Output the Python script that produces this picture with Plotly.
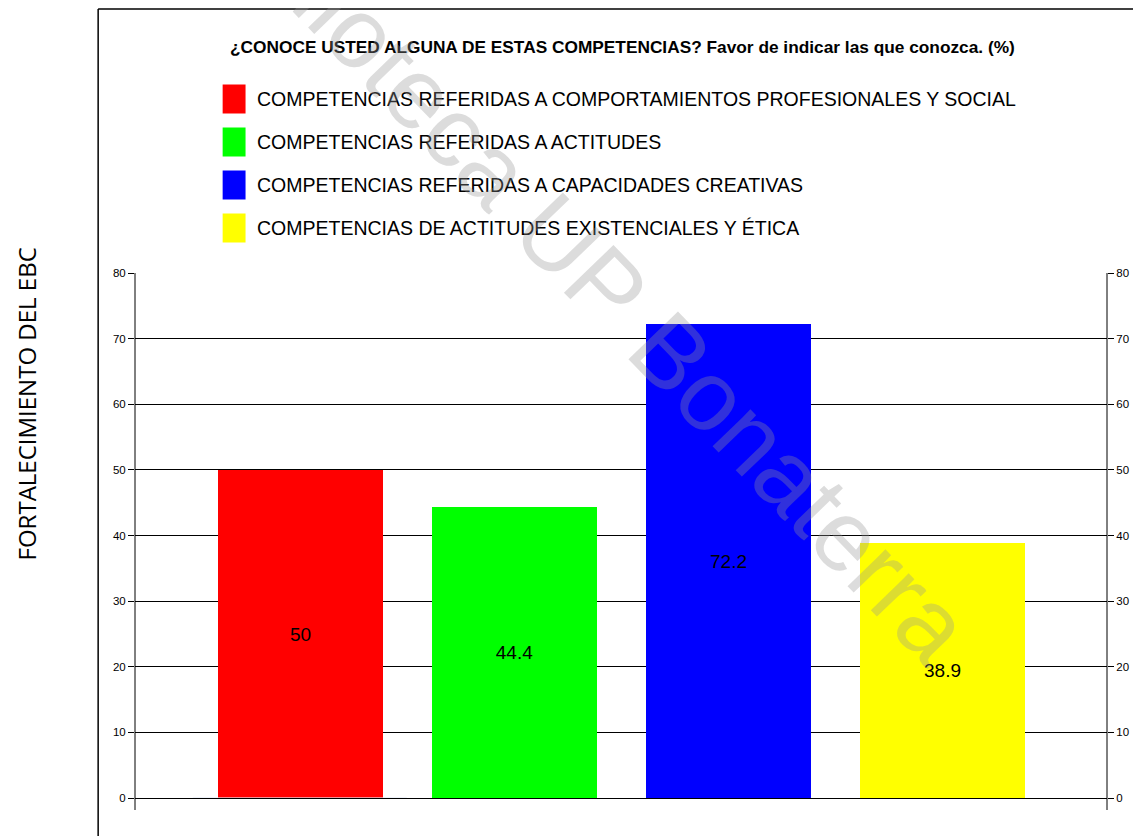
import plotly.graph_objects as go

categories = [
    "COMPETENCIAS REFERIDAS A COMPORTAMIENTOS PROFESIONALES Y SOCIAL",
    "COMPETENCIAS REFERIDAS A ACTITUDES",
    "COMPETENCIAS REFERIDAS A CAPACIDADES CREATIVAS",
    "COMPETENCIAS DE ACTITUDES EXISTENCIALES Y ÉTICA",
]
values = [50, 44.4, 72.2, 38.9]
colors = ["#ff0000", "#00ff00", "#0000ff", "#ffff00"]
y_ticks = [0, 10, 20, 30, 40, 50, 60, 70, 80]
title_text = "¿CONOCE USTED ALGUNA DE ESTAS COMPETENCIAS? Favor de indicar las que conozca. (%)"
side_title = "FORTALECIMIENTO DEL EBC"
watermark = "Biblioteca UP Bonaterra"

OFF = 8  # page body margin
W, H = 1141 - OFF, 836 - OFF
L, R, T, B = 135, 1111, 273, 798  # reference pixel coords of plot area

def px(x):
    return (x - L) / (R - L)

def py(y):
    return (B - y) / (B - T)

FONT = "Liberation Sans, Arial, sans-serif"

fig = go.Figure()
xs = list(range(len(categories)))
fig.add_trace(go.Bar(
    x=xs, y=values, width=0.772,
    marker=dict(color=colors, line=dict(width=0)),
    text=[f"{v:g}" for v in values], textposition="inside",
    insidetextanchor="middle",
    textfont=dict(family=FONT, size=19, color="black"),
    showlegend=False, hoverinfo="skip",
))
fig.add_trace(go.Bar(x=[0], y=[0], yaxis="y2", showlegend=False,
                     marker=dict(color="rgba(0,0,0,0)"), hoverinfo="skip"))

shapes = []
annotations = []
# frame lines
shapes.append(dict(type="line", xref="paper", yref="paper",
                   x0=px(98), x1=px(98), y0=py(9), y1=py(840), line=dict(color="black", width=1.5)))
shapes.append(dict(type="line", xref="paper", yref="paper",
                   x0=px(98), x1=px(1145), y0=py(9), y1=py(9), line=dict(color="black", width=1.5)))
# axis lines extending below zero
for xx in (L, R):
    shapes.append(dict(type="line", xref="paper", yref="paper",
                       x0=px(xx), x1=px(xx), y0=py(T), y1=py(810), line=dict(color="black", width=1)))

# legend
for i, (name, c) in enumerate(zip(categories, colors)):
    cy = 99 + i * 43
    shapes.append(dict(type="rect", xref="paper", yref="paper",
                       x0=px(223), x1=px(246), y0=py(cy - 14.5), y1=py(cy + 14.5),
                       fillcolor=c, line=dict(width=0)))
    annotations.append(dict(text=name, xref="paper", yref="paper", x=px(255), y=py(cy),
                            xanchor="left", yanchor="middle", showarrow=False,
                            font=dict(family=FONT, size=19.5, color="black")))

annotations.append(dict(text="<b>" + title_text + "</b>", xref="paper", yref="paper",
                        x=px(625), y=py(47), xanchor="center", yanchor="middle", showarrow=False,
                        font=dict(family=FONT, size=17.3, color="black")))
annotations.append(dict(text=side_title, xref="paper", yref="paper",
                        x=px(26), y=py(404), xanchor="center", yanchor="middle", showarrow=False,
                        textangle=-90,
                        font=dict(family="Open Sans, sans-serif", size=24, color="black")))
annotations.append(dict(text=watermark, xref="paper", yref="paper",
                        x=px(585), y=py(262), xanchor="center", yanchor="middle", showarrow=False,
                        textangle=46,
                        font=dict(family=FONT, size=100, color="rgba(150,150,150,0.33)")))

yax = dict(range=[0, 80], tickvals=y_ticks, ticks="outside", ticklen=6, tickcolor="black",
           tickfont=dict(family=FONT, size=11.5, color="black"), showline=False,
           fixedrange=True)

fig.update_layout(
    width=W, height=H,
    margin=dict(l=L - OFF, r=1141 - R, t=T - OFF, b=836 - B, pad=0),
    paper_bgcolor="white", plot_bgcolor="white",
    xaxis=dict(range=[-0.772, 3.767], showticklabels=False, showgrid=False, zeroline=False,
               showline=True, linecolor="black", linewidth=1, ticks=""),
    yaxis=dict(**yax, showgrid=True, gridcolor="black", gridwidth=1, zeroline=False),
    yaxis2=dict(**yax, overlaying="y", side="right", showgrid=False, zeroline=False),
    shapes=shapes, annotations=annotations,
    bargap=0,
)

fig.write_html("out.html")
